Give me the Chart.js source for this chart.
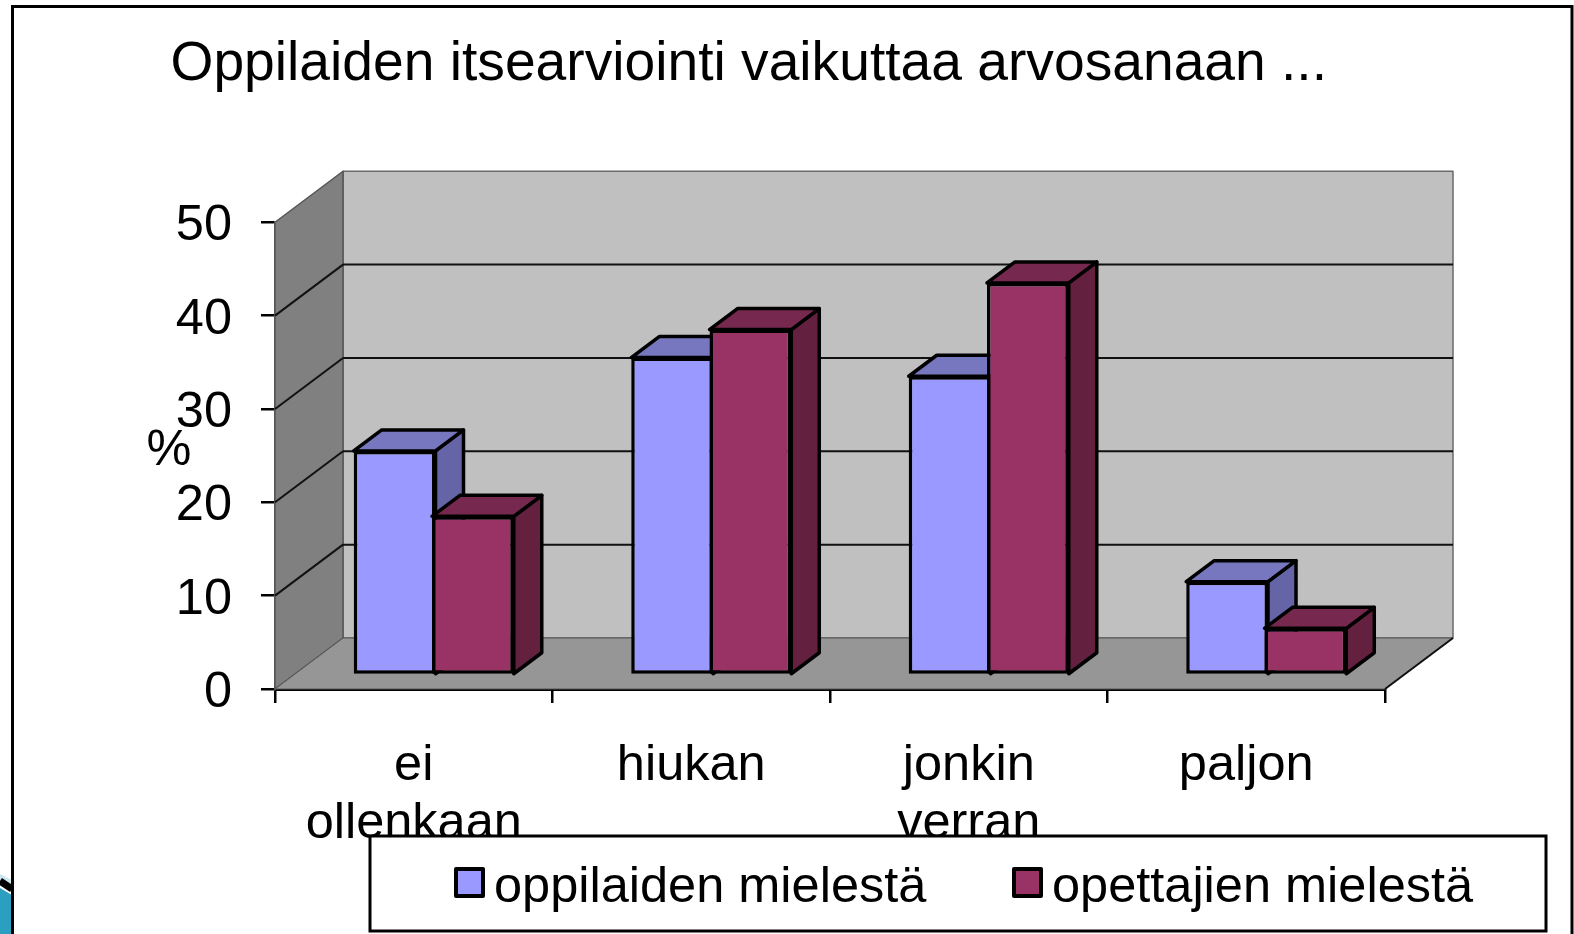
<!DOCTYPE html>
<html>
<head>
<meta charset="utf-8">
<title>Oppilaiden itsearviointi</title>
<script src="https://cdn.jsdelivr.net/npm/chart.js@4"></script>
<style>
  html, body { margin: 0; padding: 0; background: #fff; overflow: hidden; }
  #wrap { width: 1574px; height: 934px; }
  canvas { filter: blur(0.5px); }
</style>
</head>
<body>
<div id="wrap"><canvas id="arvosanaChart" width="1574" height="934"></canvas></div>
<script>
// Data
const chartTitle = 'Oppilaiden itsearviointi vaikuttaa arvosanaan ...';
const categories = [['ei', 'ollenkaan'], 'hiukan', ['jonkin', 'verran'], 'paljon'];
const seriesNames = ['oppilaiden mielestä', 'opettajien mielestä'];
const oppilaat = [24, 34, 32, 10];
const opettajat = [17, 37, 42, 5];
const axisUnit = '%';

const FONT = '"Liberation Sans", Arial, sans-serif';
const BLACK = '#000';
const TEXT_SIZE = 50.5;

// 3D look: the walls sit behind the front plane, bars stand partway in
const wall = { dx: 68, dy: 51 };
const barFront = { dx: 20, dy: 14 };
const barDepth = { dx: 28, dy: 21 };

function poly(ctx, pts, fill, stroke, lineWidth) {
  ctx.beginPath();
  pts.forEach((p, i) => i ? ctx.lineTo(p[0], p[1]) : ctx.moveTo(p[0], p[1]));
  ctx.closePath();
  if (fill) {
    ctx.fillStyle = fill;
    ctx.fill();
  }
  if (stroke) {
    ctx.strokeStyle = stroke;
    ctx.lineWidth = lineWidth;
    ctx.lineJoin = 'round';
    ctx.stroke();
  }
}

function line(ctx, x1, y1, x2, y2, color, width) {
  ctx.beginPath();
  ctx.moveTo(x1, y1);
  ctx.lineTo(x2, y2);
  ctx.strokeStyle = color;
  ctx.lineWidth = width;
  ctx.stroke();
}

// Slide frame and the bit of slide artwork in the lower left corner
const framePlugin = {
  id: 'frame',
  afterLayout(chart) {
    // title starts left of the centre in the original
    chart.titleBlock.left = 170.5;
  },
  beforeDraw(chart) {
    const { ctx, width, height } = chart;
    ctx.save();
    ctx.fillStyle = '#fff';
    ctx.fillRect(0, 0, width, height);
    poly(ctx, [[0, 874], [12, 880], [12, 892], [0, 886]], '#cfe6ee');
    poly(ctx, [[0, 888], [12, 895], [12, height], [0, height]], '#2a9fc0');
    line(ctx, 0, 881, 12, 889, BLACK, 7);
    ctx.beginPath();
    ctx.moveTo(12.5, height);
    ctx.lineTo(12.5, 6.5);
    ctx.lineTo(1572, 6.5);
    ctx.lineTo(1572, height);
    ctx.strokeStyle = BLACK;
    ctx.lineWidth = 3;
    ctx.stroke();
    ctx.restore();
  }
};

// Walls, floor and back gridlines come from the scales
const wallsPlugin = {
  id: 'walls',
  beforeDatasetsDraw(chart) {
    const { ctx, chartArea: a, scales } = chart;
    const y = scales.y;
    const top = y.getPixelForValue(y.max);
    const base = y.getPixelForValue(0);
    ctx.save();
    poly(ctx, [[a.left + wall.dx, top - wall.dy], [a.right + wall.dx, top - wall.dy],
      [a.right + wall.dx, base - wall.dy], [a.left + wall.dx, base - wall.dy]], '#c0c0c0', '#6a6a6a', 1.5);
    poly(ctx, [[a.left, top], [a.left + wall.dx, top - wall.dy],
      [a.left + wall.dx, base - wall.dy], [a.left, base]], '#808080', '#555', 1.5);
    poly(ctx, [[a.left, base], [a.left + wall.dx, base - wall.dy],
      [a.right + wall.dx, base - wall.dy], [a.right, base]], '#969696', '#555', 1);
    y.ticks.forEach(t => {
      if (t.value === 0 || t.value === y.max) return;
      const py = y.getPixelForValue(t.value);
      line(ctx, a.left, py, a.left + wall.dx, py - wall.dy, '#111', 2);
      line(ctx, a.left + wall.dx, py - wall.dy, a.right + wall.dx, py - wall.dy, '#111', 2);
    });
    line(ctx, a.right, base, a.right + wall.dx, base - wall.dy, '#111', 2);
    ctx.restore();
  }
};

// The left bar of a pair has to go down first, so the library's back-to-front
// dataset loop is cancelled and the datasets are drawn here in their own order
const barsPlugin = {
  id: 'bars3d',
  beforeDatasetDraw() {
    return false;
  },
  afterDatasetsDraw(chart) {
    const { ctx } = chart;
    chart.getSortedVisibleDatasetMetas().forEach(meta => {
      const ds = chart.data.datasets[meta.index];
      ctx.save();
      ctx.translate(barFront.dx, -barFront.dy);
      meta.data.forEach(bar => {
        const left = bar.x - bar.width / 2;
        const right = bar.x + bar.width / 2;
        const dx = barDepth.dx;
        const dy = barDepth.dy;
        poly(ctx, [[right, bar.y], [right + dx, bar.y - dy], [right + dx, bar.base - dy], [right, bar.base]],
          ds.sideColor, BLACK, 3.5);
        poly(ctx, [[left, bar.y], [left + dx, bar.y - dy], [right + dx, bar.y - dy], [right, bar.y]],
          ds.topColor, BLACK, 3.5);
      });
      meta.controller.draw();
      ctx.restore();
    });
  }
};

// Legend box sits over the category labels, and the % label sits beside the axis
const legendPlugin = {
  id: 'boxLegend',
  afterDatasetsDraw(chart) {
    const { ctx } = chart;
    const itemX = [456, 1014];
    ctx.save();
    ctx.fillStyle = '#fff';
    ctx.fillRect(370, 836, 1176, 95);
    ctx.strokeStyle = BLACK;
    ctx.lineWidth = 3;
    ctx.strokeRect(370, 836, 1176, 95);

    chart.data.datasets.forEach((ds, i) => {
      ctx.fillStyle = ds.backgroundColor;
      ctx.fillRect(itemX[i], 869, 27, 27);
      ctx.strokeStyle = BLACK;
      ctx.lineWidth = 4;
      ctx.lineJoin = 'round';
      ctx.strokeRect(itemX[i], 869, 27, 27);
      ctx.fillStyle = BLACK;
      ctx.font = TEXT_SIZE + 'px ' + FONT;
      ctx.textAlign = 'left';
      ctx.textBaseline = 'middle';
      ctx.fillText(ds.label, itemX[i] + 38, 888);
    });

    ctx.font = TEXT_SIZE + 'px ' + FONT;
    ctx.textAlign = 'center';
    ctx.textBaseline = 'middle';
    ctx.fillStyle = BLACK;
    ctx.fillText(axisUnit, 169, 451);
    ctx.restore();
  }
};

new Chart(document.getElementById('arvosanaChart'), {
  type: 'bar',
  data: {
    labels: categories,
    datasets: [
      {
        label: seriesNames[0],
        data: oppilaat,
        backgroundColor: '#9999ff',
        sideColor: '#6464a6',
        topColor: '#7777c0',
        borderColor: BLACK,
        borderWidth: 3.5,
        borderSkipped: false
      },
      {
        label: seriesNames[1],
        data: opettajat,
        backgroundColor: '#993366',
        sideColor: '#63213f',
        topColor: '#76284e',
        borderColor: BLACK,
        borderWidth: 3.5,
        borderSkipped: false
      }
    ]
  },
  options: {
    responsive: false,
    animation: false,
    // slightly over 1 so neighbouring bars share one border line
    categoryPercentage: 0.564,
    barPercentage: 1.045,
    layout: { padding: { left: 0, right: 189, top: 0, bottom: 0 } },
    plugins: {
      legend: { display: false },
      tooltip: { enabled: false },
      title: {
        display: true,
        text: chartTitle,
        color: BLACK,
        align: 'start',
        font: { family: FONT, size: 55.2, weight: 'normal' },
        padding: { top: 32, bottom: 124 }
      }
    },
    scales: {
      x: {
        afterFit: s => { s.height = 245; },
        border: { color: BLACK, width: 3 },
        grid: { drawOnChartArea: false, color: BLACK, lineWidth: 2.5, tickLength: 14 },
        ticks: {
          color: BLACK,
          padding: 34,
          maxRotation: 0,
          autoSkip: false,
          font: { family: FONT, size: TEXT_SIZE, lineHeight: 1.15 }
        }
      },
      y: {
        min: 0,
        max: 50,
        afterFit: s => { s.width = 275; },
        border: { color: '#555', width: 1.5 },
        grid: { drawOnChartArea: false, color: BLACK, lineWidth: 2.5, tickLength: 14 },
        ticks: {
          stepSize: 10,
          color: BLACK,
          padding: 29,
          labelOffset: 4,
          font: { family: FONT, size: TEXT_SIZE }
        }
      }
    }
  },
  plugins: [framePlugin, wallsPlugin, barsPlugin, legendPlugin]
});
</script>
</body>
</html>
